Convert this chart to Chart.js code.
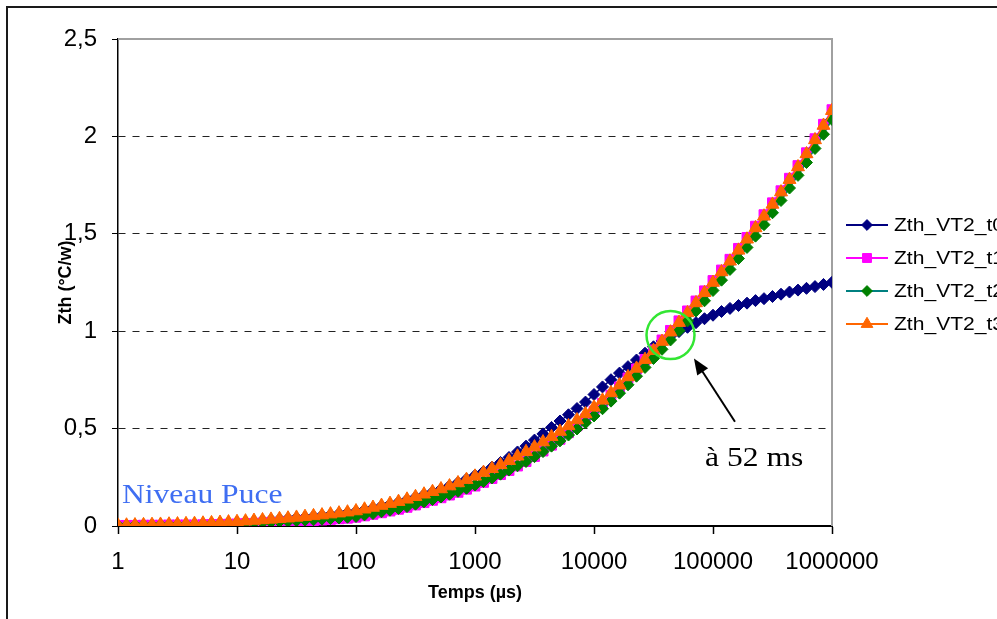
<!DOCTYPE html>
<html>
<head>
<meta charset="utf-8">
<title>Zth VT2</title>
<script src="https://cdn.jsdelivr.net/npm/chart.js@4.4.1/dist/chart.umd.min.js"></script>
<style>
  html, body { margin: 0; padding: 0; background: #fff; overflow: hidden; }
  #wrap { position: relative; width: 997px; height: 619px; overflow: hidden; }
  #frame { position: absolute; left: 6px; top: 6px; width: 1100px; height: 700px;
           border-left: 2px solid #1a1a1a; border-top: 2px solid #1a1a1a; }
  #zthChart { position: absolute; left: 0; top: 0; width: 997px; height: 619px; }
</style>
</head>
<body>
<div id="wrap">
  <div id="frame"></div>
  <canvas id="zthChart" width="997" height="619"></canvas>
</div>
<script>
// temps de mesure (µs), 14 points par décade
const times = [
  1, 1.179, 1.389, 1.638, 1.931, 2.276, 2.683, 3.162, 3.728, 4.394, 5.179, 6.105, 7.197, 8.483,
  10, 11.79, 13.89, 16.38, 19.31, 22.76, 26.83, 31.62, 37.28, 43.94, 51.79, 61.05, 71.97, 84.83,
  100, 117.9, 138.9, 163.8, 193.1, 227.6, 268.3, 316.2, 372.8, 439.4, 517.9, 610.5, 719.7, 848.3,
  1000, 1179, 1389, 1638, 1931, 2276, 2683, 3162, 3728, 4394, 5179, 6105, 7197, 8483,
  10000, 11790, 13890, 16380, 19310, 22760, 26830, 31620, 37280, 43940, 51790, 61050, 71970, 84830,
  100000, 117900, 138900, 163800, 193100, 227600, 268300, 316200, 372800, 439400, 517900, 610500, 719700, 848300,
  1000000
];

const zthT0 = [
  0.002, 0.003, 0.004, 0.005, 0.006, 0.006, 0.007, 0.008, 0.009, 0.010, 0.012, 0.014, 0.016, 0.018,
  0.020, 0.023, 0.026, 0.029, 0.032, 0.035, 0.038, 0.042, 0.046, 0.050, 0.054, 0.059, 0.064, 0.069,
  0.075, 0.084, 0.093, 0.103, 0.113, 0.123, 0.135, 0.148, 0.161, 0.175, 0.190, 0.206, 0.223, 0.241,
  0.260, 0.280, 0.302, 0.326, 0.352, 0.380, 0.410, 0.441, 0.473, 0.506, 0.539, 0.571, 0.603, 0.636,
  0.675, 0.714, 0.751, 0.785, 0.818, 0.852, 0.887, 0.920, 0.950, 0.975, 0.998, 1.020, 1.044, 1.064,
  1.082, 1.101, 1.117, 1.132, 1.144, 1.157, 1.167, 1.178, 1.190, 1.201, 1.211, 1.220, 1.229, 1.240,
  1.251
];

const zthT1 = [
  0.002, 0.003, 0.003, 0.004, 0.004, 0.004, 0.005, 0.005, 0.005, 0.005, 0.006, 0.007, 0.008, 0.009,
  0.010, 0.012, 0.013, 0.015, 0.017, 0.018, 0.020, 0.023, 0.026, 0.028, 0.031, 0.034, 0.037, 0.040,
  0.045, 0.052, 0.060, 0.068, 0.077, 0.086, 0.096, 0.108, 0.120, 0.132, 0.145, 0.159, 0.173, 0.189,
  0.205, 0.224, 0.244, 0.264, 0.285, 0.308, 0.331, 0.357, 0.385, 0.415, 0.445, 0.479, 0.514, 0.550,
  0.589, 0.629, 0.671, 0.714, 0.760, 0.806, 0.855, 0.904, 0.955, 1.004, 1.053, 1.104, 1.155, 1.207,
  1.260, 1.314, 1.369, 1.425, 1.481, 1.539, 1.598, 1.659, 1.721, 1.785, 1.850, 1.916, 1.988, 2.062,
  2.137
];

const zthT2 = [
  0.003, 0.003, 0.004, 0.004, 0.005, 0.005, 0.006, 0.006, 0.006, 0.007, 0.008, 0.010, 0.011, 0.013,
  0.014, 0.016, 0.017, 0.019, 0.021, 0.023, 0.024, 0.027, 0.030, 0.032, 0.035, 0.038, 0.041, 0.045,
  0.049, 0.057, 0.064, 0.073, 0.081, 0.090, 0.100, 0.112, 0.124, 0.136, 0.149, 0.163, 0.178, 0.194,
  0.210, 0.228, 0.247, 0.266, 0.287, 0.309, 0.331, 0.356, 0.382, 0.410, 0.437, 0.467, 0.498, 0.530,
  0.565, 0.602, 0.641, 0.682, 0.725, 0.769, 0.814, 0.860, 0.907, 0.955, 1.003, 1.053, 1.104, 1.156,
  1.209, 1.262, 1.317, 1.373, 1.430, 1.488, 1.547, 1.608, 1.671, 1.735, 1.800, 1.866, 1.938, 2.011,
  2.087
];

const zthT3 = [
  0.003, 0.004, 0.005, 0.006, 0.007, 0.008, 0.009, 0.010, 0.011, 0.012, 0.014, 0.016, 0.018, 0.020,
  0.022, 0.025, 0.028, 0.031, 0.034, 0.037, 0.040, 0.044, 0.048, 0.052, 0.056, 0.061, 0.066, 0.071,
  0.077, 0.086, 0.095, 0.105, 0.115, 0.125, 0.137, 0.150, 0.163, 0.176, 0.190, 0.205, 0.221, 0.238,
  0.255, 0.274, 0.294, 0.314, 0.335, 0.358, 0.381, 0.405, 0.431, 0.458, 0.485, 0.514, 0.544, 0.575,
  0.609, 0.645, 0.683, 0.723, 0.765, 0.809, 0.854, 0.900, 0.947, 0.995, 1.044, 1.094, 1.145, 1.197,
  1.250, 1.304, 1.359, 1.415, 1.472, 1.530, 1.590, 1.651, 1.714, 1.778, 1.843, 1.910, 1.982, 2.056,
  2.132
];

const seriesNames = ['Zth_VT2_t0', 'Zth_VT2_t1', 'Zth_VT2_t2', 'Zth_VT2_t3'];
const xTicks = [1, 10, 100, 1000, 10000, 100000, 1000000];

// annotations (en coordonnées des axes)
const noteCircle = { t: 43940, v: 0.98, r: 24 };
const noteArrow = { from: { t: 153000, v: 0.535 }, to: { t: 69200, v: 0.86 } };
const noteMs = { text: 'à 52 ms', t: 85700, v: 0.308 };
const noteChip = { text: 'Niveau Puce', t: 1.08, v: 0.116 };

const toPoints = vals => vals.map((v, i) => ({ x: times[i], y: v }));

function stretchedText(ctx, text, px, py, font, color, sx) {
  ctx.save();
  ctx.translate(px, py);
  ctx.scale(sx, 1);
  ctx.font = font;
  ctx.fillStyle = color;
  ctx.textBaseline = 'alphabetic';
  ctx.textAlign = 'left';
  ctx.fillText(text, 0, 0);
  ctx.restore();
}

// bord gris haut/droite de la zone de tracé
const plotFrame = {
  id: 'plotFrame',
  beforeDatasetsDraw(chart) {
    const { ctx, chartArea: a } = chart;
    ctx.save();
    ctx.strokeStyle = '#a0a0a0';
    ctx.lineWidth = 2;
    ctx.beginPath();
    ctx.moveTo(a.left, a.top);
    ctx.lineTo(a.right, a.top);
    ctx.lineTo(a.right, a.bottom);
    ctx.stroke();
    ctx.restore();
  }
};

const notes = {
  id: 'notes',
  afterDatasetsDraw(chart) {
    const { ctx, scales: { x, y } } = chart;
    ctx.save();
    ctx.strokeStyle = '#33e633';
    ctx.lineWidth = 2.5;
    ctx.beginPath();
    ctx.arc(x.getPixelForValue(noteCircle.t), y.getPixelForValue(noteCircle.v), noteCircle.r, 0, Math.PI * 2);
    ctx.stroke();

    const x1 = x.getPixelForValue(noteArrow.from.t), y1 = y.getPixelForValue(noteArrow.from.v);
    const x2 = x.getPixelForValue(noteArrow.to.t), y2 = y.getPixelForValue(noteArrow.to.v);
    const ang = Math.atan2(y2 - y1, x2 - x1);
    const c = Math.cos(ang), s = Math.sin(ang);
    ctx.strokeStyle = '#000';
    ctx.lineWidth = 2;
    ctx.beginPath();
    ctx.moveTo(x1, y1);
    ctx.lineTo(x2 - 12 * c, y2 - 12 * s);
    ctx.stroke();
    ctx.fillStyle = '#000';
    ctx.beginPath();
    ctx.moveTo(x2, y2);
    ctx.lineTo(x2 - 16 * c + 6.5 * s, y2 - 16 * s - 6.5 * c);
    ctx.lineTo(x2 - 16 * c - 6.5 * s, y2 - 16 * s + 6.5 * c);
    ctx.closePath();
    ctx.fill();
    ctx.restore();

    const serif = '27px "Times New Roman", "Liberation Serif", serif';
    stretchedText(ctx, noteMs.text, x.getPixelForValue(noteMs.t), y.getPixelForValue(noteMs.v), serif, '#000', 1.17);
    stretchedText(ctx, noteChip.text, x.getPixelForValue(noteChip.t), y.getPixelForValue(noteChip.v), serif, '#3f6ef2', 1.17);
  }
};

// légende à droite, ligne + marqueur comme dans Excel
const sideLegend = {
  id: 'sideLegend',
  afterDraw(chart) {
    const { ctx, chartArea: a } = chart;
    chart.data.datasets.forEach((ds, i) => {
      const ly = a.top + 186 + i * 33;
      ctx.save();
      ctx.strokeStyle = ds.borderColor;
      ctx.lineWidth = 2;
      ctx.beginPath();
      ctx.moveTo(a.right + 14, ly);
      ctx.lineTo(a.right + 56, ly);
      ctx.stroke();
      ctx.fillStyle = ds.pointBackgroundColor;
      ctx.strokeStyle = ds.pointBorderColor;
      ctx.lineWidth = 1;
      if (Chart.helpers && Chart.helpers.drawPoint) {
        Chart.helpers.drawPoint(ctx, { pointStyle: ds.pointStyle, radius: ds.pointRadius * 0.9, rotation: 0, borderWidth: 1 }, a.right + 35, ly);
      } else {
        ctx.fillRect(a.right + 31, ly - 4, 8, 8);
      }
      ctx.restore();
      stretchedText(ctx, seriesNames[i], a.right + 62, ly + 6, '18px Arial, "Liberation Sans", sans-serif', '#000', 1.17);
    });
  }
};

Chart.defaults.font.family = 'Arial, "Liberation Sans", sans-serif';
Chart.defaults.color = '#000';

const ctx = document.getElementById('zthChart').getContext('2d');

new Chart(ctx, {
  type: 'line',
  data: {
    datasets: [
      {
        label: seriesNames[0], data: toPoints(zthT0),
        borderColor: '#000080', backgroundColor: '#000080', borderWidth: 1.5,
        pointStyle: 'rectRot', pointRadius: 6, pointBorderWidth: 1,
        pointBackgroundColor: '#000080', pointBorderColor: '#000080', order: 3
      },
      {
        label: seriesNames[1], data: toPoints(zthT1),
        borderColor: '#ff00ff', backgroundColor: '#ff00ff', borderWidth: 1.5,
        pointStyle: 'rect', pointRadius: 7, pointBorderWidth: 1,
        pointBackgroundColor: '#ff00ff', pointBorderColor: '#ff00ff', order: 2
      },
      {
        label: seriesNames[2], data: toPoints(zthT2),
        borderColor: '#008080', backgroundColor: '#008000', borderWidth: 1.5,
        pointStyle: 'rectRot', pointRadius: 6, pointBorderWidth: 1,
        pointBackgroundColor: '#008000', pointBorderColor: '#008000', order: 1
      },
      {
        label: seriesNames[3], data: toPoints(zthT3),
        borderColor: '#ff6600', backgroundColor: '#ff6600', borderWidth: 1.5,
        pointStyle: 'triangle', pointRadius: 7.5, pointBorderWidth: 1,
        pointBackgroundColor: '#ff6600', pointBorderColor: '#ff6600', order: 0
      }
    ]
  },
  options: {
    responsive: false,
    animation: false,
    events: [],
    layout: { padding: { top: 39, right: 165, left: 0, bottom: 0 } },
    plugins: {
      legend: { display: false },
      tooltip: { enabled: false }
    },
    scales: {
      x: {
        type: 'logarithmic',
        min: 1,
        max: 1000000,
        afterBuildTicks: scale => { scale.ticks = xTicks.map(v => ({ value: v })); },
        afterFit: scale => { scale.height = 93; },
        ticks: {
          font: { size: 24 },
          padding: 14,
          autoSkip: false,
          maxRotation: 0,
          callback: v => String(v)
        },
        grid: { drawOnChartArea: false, drawTicks: true, tickLength: 8, tickColor: '#000', tickWidth: 1.5 },
        border: { color: '#000', width: 2 },
        title: {
          display: true, text: 'Temps (µs)',
          font: { size: 18, weight: 'bold' },
          padding: { top: 0, bottom: 15 }
        }
      },
      y: {
        min: 0,
        max: 2.5,
        afterFit: scale => { scale.width = 118; },
        ticks: {
          stepSize: 0.5,
          font: { size: 24 },
          padding: 15,
          callback: v => String(v).replace('.', ',')
        },
        grid: {
          color: c => (c.tick && c.tick.value > 0 && c.tick.value < 2.5) ? '#222' : 'transparent',
          lineWidth: 1,
          tickLength: 6,
          tickColor: '#000'
        },
        border: { color: '#000', width: 1.5, dash: [7, 7] },
        title: {
          display: true, text: 'Zth (°C/w)',
          font: { size: 18, weight: 'bold' },
          padding: { top: 55, bottom: 0 }
        }
      }
    }
  },
  plugins: [plotFrame, notes, sideLegend]
});
</script>
</body>
</html>
